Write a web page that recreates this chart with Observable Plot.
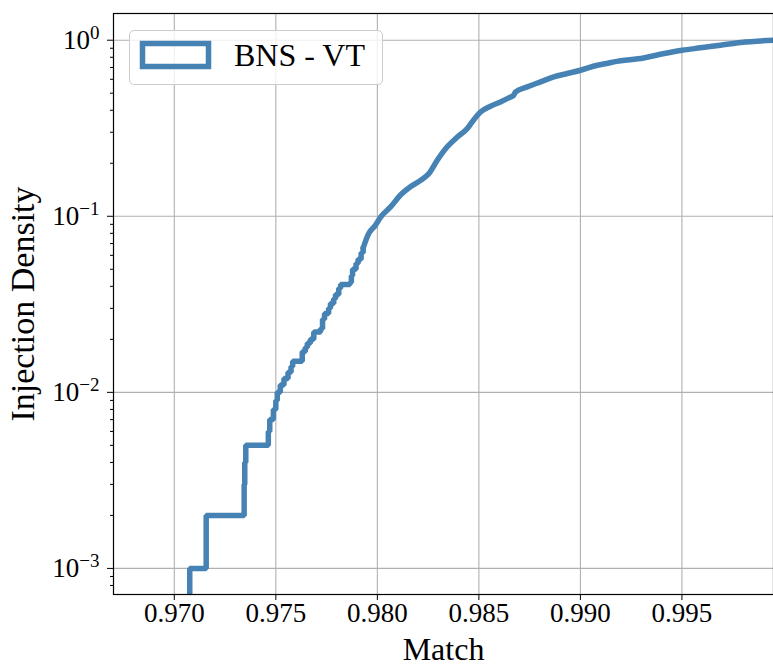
<!DOCTYPE html>
<html><head><meta charset="utf-8">
<script src="https://cdn.jsdelivr.net/npm/d3@7"></script>
<script src="https://cdn.jsdelivr.net/npm/@observablehq/plot@0.6"></script>
<style>
body{margin:0;background:#fff;}
#wrap{position:relative;width:773px;height:665px;overflow:hidden;}
#legend{position:absolute;left:129px;top:30px;width:252px;height:53px;border:1px solid #cccccc;border-radius:5px;background:rgba(255,255,255,0.8);}
</style></head><body><div id="wrap"></div>
<script>
const seriesName = "BNS - VT";
const xLabel = "Match";
const yLabel = "Injection Density";

// lower, visibly stepped part of the cumulative curve
const stepMatch = [0.97076, 0.97076, 0.97157, 0.97344, 0.97347, 0.97352, 0.97463, 0.97470, 0.97488, 0.97500,
  0.97507, 0.97522, 0.97540, 0.97560, 0.97575, 0.97583, 0.97630, 0.97645, 0.97655, 0.97670,
  0.97687, 0.97720, 0.97730, 0.97740, 0.97760, 0.97769, 0.97785, 0.97794, 0.97810, 0.97819,
  0.97865, 0.97872, 0.97878, 0.97895, 0.97905, 0.97920, 0.97930];
const stepDensity = [0.0001, 0.001, 0.002, 0.003, 0.004, 0.005, 0.006, 0.007, 0.008, 0.009,
  0.010, 0.011, 0.012, 0.013, 0.014, 0.015, 0.017, 0.018, 0.019, 0.020,
  0.022, 0.023, 0.026, 0.028, 0.030, 0.032, 0.034, 0.036, 0.039, 0.041,
  0.042, 0.046, 0.050, 0.054, 0.057, 0.062, 0.066];

// upper, densely stepped (smooth-looking) part
const curveMatch = [0.97930, 0.97958, 0.97991, 0.98016, 0.98065, 0.98114, 0.98163, 0.98213, 0.98254, 0.98295,
  0.98344, 0.98394, 0.98443, 0.98460, 0.98508, 0.98557, 0.98606, 0.98656, 0.98670, 0.98681,
  0.98738, 0.98804, 0.98869, 0.98935, 0.99001, 0.99083, 0.99140, 0.99165, 0.99311, 0.99413,
  0.99502, 0.99592, 0.99690, 0.99789, 0.99951];
const curveDensity = [0.066, 0.080, 0.089, 0.099, 0.113, 0.132, 0.147, 0.160, 0.175, 0.208,
  0.248, 0.282, 0.315, 0.335, 0.391, 0.422, 0.446, 0.476, 0.485, 0.509,
  0.543, 0.580, 0.619, 0.647, 0.675, 0.721, 0.742, 0.753, 0.793, 0.840,
  0.877, 0.905, 0.937, 0.970, 1.0];

const xTicks = [0.970, 0.975, 0.980, 0.985, 0.990, 0.995];
const yMajor = [0.001, 0.01, 0.1, 1];
const yMinor = [0.0008, 0.0009, 0.002, 0.003, 0.004, 0.005, 0.006, 0.007, 0.008, 0.009,
  0.02, 0.03, 0.04, 0.05, 0.06, 0.07, 0.08, 0.09, 0.2, 0.3, 0.4, 0.5, 0.6, 0.7, 0.8, 0.9];

const color = "#4682b4";
const stepData = stepMatch.map((m, i) => ({m, d: stepDensity[i]}));
const curveData = curveMatch.map((m, i) => ({m, d: curveDensity[i]}));

const chart = Plot.plot({
  width: 773, height: 665,
  marginLeft: 113, marginRight: 0, marginTop: 13, marginBottom: 71,
  style: {fontFamily: "'Liberation Serif', serif", fontSize: "27px", color: "black", background: "white"},
  x: {domain: [0.967005, 0.99951]},
  y: {type: "log", domain: [0.000711, 1.418]},
  marks: [
    Plot.gridX(xTicks, {stroke: "#b0b0b0", strokeOpacity: 1, strokeWidth: 1.1}),
    Plot.gridY(yMajor, {stroke: "#b0b0b0", strokeOpacity: 1, strokeWidth: 1.1}),
    Plot.line(stepData, {x: "m", y: "d", curve: "step-after", stroke: color, strokeWidth: 5.5, strokeLinejoin: "miter", clip: true}),
    Plot.line(curveData, {x: "m", y: "d", curve: "monotone-x", stroke: color, strokeWidth: 5.5, strokeLinejoin: "miter", clip: true}),
    Plot.frame({stroke: "black", strokeWidth: 1.2}),
    Plot.axisX(xTicks, {tickSize: 6, tickPadding: 2, tickFormat: d3.format(".3f"), label: null}),
    Plot.axisY(yMajor, {tickSize: 6, tickPadding: 8, tickFormat: d => "10^" + Math.round(Math.log10(d)), label: null}),
    Plot.axisY(yMinor, {tickSize: 3, tickFormat: () => "", label: null}),
    Plot.text([xLabel], {frameAnchor: "bottom", dy: 65, lineAnchor: "bottom", textAnchor: "middle", fontSize: 32}),
    Plot.text([yLabel], {frameAnchor: "left", dx: -80, rotate: -90, lineAnchor: "bottom", textAnchor: "middle", fontSize: 34})
  ]
});

const ns = "http://www.w3.org/2000/svg";
chart.querySelectorAll('g[aria-label="y-axis tick label"] text').forEach(t => {
  const s = t.textContent;
  if (!s.startsWith("10^")) return;
  const e = s.slice(3).replace("-", "\u2212");
  t.textContent = "";
  const a = document.createElementNS(ns, "tspan"); a.textContent = "10";
  const b = document.createElementNS(ns, "tspan"); b.textContent = e;
  b.setAttribute("dy", "-10"); b.setAttribute("font-size", "19px");
  t.append(a, b);
});

const wrap = document.getElementById("wrap");
wrap.appendChild(chart);
const legend = document.createElement("div");
legend.id = "legend";
legend.innerHTML = `<svg width="252" height="53" xmlns="${ns}">
  <rect x="12.5" y="12.5" width="66" height="23" fill="none" stroke="${color}" stroke-width="5.5"></rect>
  <text x="104" y="35" font-family="'Liberation Serif', serif" font-size="32px" fill="black"></text></svg>`;
legend.querySelector("text").textContent = seriesName;
wrap.appendChild(legend);
</script></body></html>
